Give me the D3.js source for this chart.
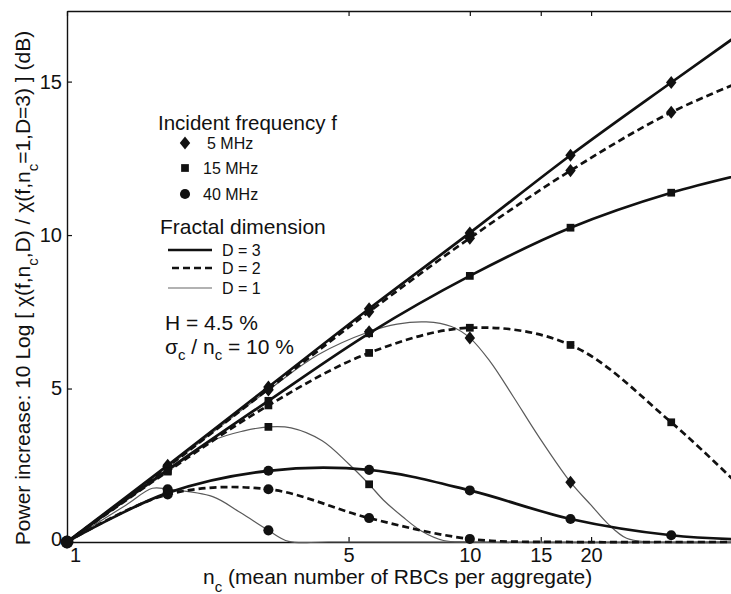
<!DOCTYPE html>
<html><head><meta charset="utf-8">
<script src="https://cdn.jsdelivr.net/npm/d3@7"></script>
<style>
body{margin:0;background:#fff}
svg text{font-family:"Liberation Sans",Arial,Helvetica,sans-serif;fill:#111}
</style>
</head><body>
<svg id="chart" width="731" height="594"></svg>
<script>
// ---- data ----
const nc = [1, 1.778, 3.162, 5.623, 10, 17.78, 31.62, 56.23];
const f5D3  = [0, 2.5, 5.05, 7.6, 10.07, 12.6, 14.97, 17.3];
const f5D2  = [0, 2.45, 4.98, 7.5, 9.9, 12.1, 14.0, 15.4];
const f15D3 = [0, 2.35, 4.6, 6.8, 8.67, 10.24, 11.38, 12.2];
const f15D2 = [0, 2.3, 4.45, 6.16, 6.98, 6.42, 3.9, 0.8];
const f40D3 = [0, 1.6, 2.32, 2.35, 1.68, 0.75, 0.22, 0.05];
const f40D2 = [0, 1.55, 1.72, 0.78, 0.1, 0, 0, 0];
const nc5D1  = [1, 1.778, 3.162, 4.2, 5.623, 6.6, 7.8, 9.0, 10, 11.2, 12.8, 14.8, 17.78, 20, 22, 24.5, 28, 56.23];
const f5D1   = [0, 2.45, 4.95, 6.1, 6.85, 7.1, 7.17, 7.02, 6.65, 5.9, 4.75, 3.45, 1.95, 1.2, 0.6, 0.12, 0, 0];
const nc15D1 = [1, 1.778, 2.3, 2.75, 3.162, 3.6, 4.3, 5.0, 5.623, 6.1, 6.8, 7.6, 8.6, 10, 56.23];
const f15D1  = [0, 2.3, 3.3, 3.62, 3.75, 3.72, 3.3, 2.55, 1.88, 1.37, 0.83, 0.35, 0.05, 0, 0];
const nc40D1 = [1, 1.4, 1.63, 1.778, 2.3, 2.7, 3.162, 3.55, 4.5, 56.23];
const f40D1  = [0, 1.2, 1.75, 1.72, 1.48, 0.95, 0.38, 0.02, 0, 0];
const markerNc = [1, 1.778, 3.162, 5.623, 10, 17.78, 31.62];
const freqLabels = ["5 MHz", "15 MHz", "40 MHz"];
const dimLabels = ["D = 3", "D = 2", "D = 1"];
const xTicks = [1, 5, 10, 15, 20];
const yTicks = [0, 5, 10, 15];

// ---- build ----
const series = [
  {f:0, d:3, x:nc, y:f5D3}, {f:0, d:2, x:nc, y:f5D2}, {f:0, d:1, x:nc5D1, y:f5D1},
  {f:1, d:3, x:nc, y:f15D3}, {f:1, d:2, x:nc, y:f15D2}, {f:1, d:1, x:nc15D1, y:f15D1},
  {f:2, d:3, x:nc, y:f40D3}, {f:2, d:2, x:nc, y:f40D2}, {f:2, d:1, x:nc40D1, y:f40D1}
];

const svg = d3.select("#chart");
const L = 67, R = 731, T = 11, B = 542;
const x = d3.scaleLog().domain([1, 44.5]).range([L, R]);
const y = d3.scaleLinear().domain([0, 17.3]).range([B, T]);

// custom diamond (wider than d3's default)
const wideDiamond = {
  draw(ctx, size) {
    const h = Math.sqrt(size / 1.6) ;
    const w = h * 0.8;
    ctx.moveTo(0, -h); ctx.lineTo(w, 0); ctx.lineTo(0, h); ctx.lineTo(-w, 0); ctx.closePath();
  }
};
const symTypes = [wideDiamond, d3.symbolSquare, d3.symbolCircle];
const symSizes = [68, 60, 80];
const styles = {
  3: {w:2.7, dash:null, c:"#111"},
  2: {w:2.7, dash:"7,4", c:"#111"},
  1: {w:1.2, dash:null, c:"#5a5a5a"}
};

svg.append("clipPath").attr("id","clip").append("rect")
  .attr("x", L).attr("y", 0).attr("width", R - L).attr("height", B + 3);

// frame / axes
const fs = 20;
const gx = svg.append("g").attr("transform", `translate(0,${B})`)
  .call(d3.axisBottom(x).tickValues(xTicks).tickFormat(d3.format("d")).tickSize(-5).tickSizeOuter(0).tickPadding(6));
gx.selectAll("text").attr("font-size", fs).attr("dx", (d) => d === 1 ? 8 : 0);
svg.append("g").attr("transform", `translate(0,${T})`)
  .call(d3.axisTop(x).tickValues(xTicks).tickFormat("").tickSize(-5).tickSizeOuter(0));
const gy = svg.append("g").attr("transform", `translate(${L},0)`)
  .call(d3.axisLeft(y).tickValues(yTicks).tickSize(-5).tickSizeOuter(0).tickPadding(5));
gy.selectAll("text").attr("font-size", fs).attr("dy", (d) => d === 0 ? "0.15em" : "0.32em");
svg.selectAll(".domain").attr("stroke", "#111").attr("stroke-width", 1.4);
svg.selectAll(".tick line").attr("stroke", "#111").attr("stroke-width", 1.2);
svg.selectAll(".tick text").attr("fill", "#111").attr("font-family", '"Liberation Sans",Arial,sans-serif');

// curves
const line = d3.line().curve(d3.curveCatmullRom.alpha(0.5))
  .x(d => x(d[0])).y(d => y(d[1]));
const plot = svg.append("g").attr("clip-path", "url(#clip)");
[1, 2, 3].forEach(D => {
  series.filter(s => s.d === D).forEach(s => {
    const st = styles[s.d];
    plot.append("path")
      .attr("d", line(s.x.map((v, i) => [v, s.y[i]])))
      .attr("fill", "none").attr("stroke", st.c).attr("stroke-width", st.w)
      .attr("stroke-dasharray", st.dash).attr("stroke-linejoin", "round");
  });
});

// markers
const mk = svg.append("g");
series.forEach(s => {
  s.x.forEach((v, i) => {
    const onGrid = markerNc.some(m => Math.abs(m - v) < 1e-6);
    if (!onGrid) return;
    if (i > 0 && s.y[i] <= 0) return;
    mk.append("path")
      .attr("d", d3.symbol().type(symTypes[s.f]).size(symSizes[s.f])())
      .attr("transform", `translate(${x(v)},${y(s.y[i])})`)
      .attr("fill", "#111");
  });
});
mk.append("circle").attr("cx", x(1)).attr("cy", y(0)).attr("r", 6.5).attr("fill", "#111");

// axis titles
const tf = 21, sf = 15;
const xt = svg.append("text").attr("x", 203).attr("y", 584).attr("font-size", tf);
xt.append("tspan").text("n");
xt.append("tspan").attr("font-size", sf).attr("dy", 8).text("c");
xt.append("tspan").attr("dy", -8).text(" (mean number of RBCs per aggregate)");

const yt = svg.append("text").attr("transform", "translate(30,288) rotate(-90)")
  .attr("text-anchor", "middle").attr("font-size", tf);
const ytParts = [["Power increase: 10 Log [ χ(f,n", 0], ["c", 1], [",D) / χ(f,n", 0], ["c", 1], ["=1,D=3) ] (dB)", 0]];
let prevSub = 0;
ytParts.forEach(([t, sub]) => {
  yt.append("tspan").attr("font-size", sub ? sf : tf)
    .attr("dy", (sub - prevSub) * 8).text(t);
  prevSub = sub;
});

// legend
svg.append("text").attr("x", 158).attr("y", 130).attr("font-size", 20.5).text("Incident frequency f");
freqLabels.forEach((lab, i) => {
  const cy = [143, 168, 194][i];
  svg.append("path").attr("d", d3.symbol().type(symTypes[i]).size(symSizes[i])())
    .attr("transform", `translate(185,${cy})`).attr("fill", "#111");
  svg.append("text").attr("x", i === 0 ? 207 : 203).attr("y", cy + 6).attr("font-size", 16).text(lab);
});
svg.append("text").attr("x", 160).attr("y", 234).attr("font-size", 21).text("Fractal dimension");
dimLabels.forEach((lab, i) => {
  const D = 3 - i;
  const st = styles[D];
  const ly = [250, 268, 288][i];
  svg.append("line").attr("x1", D === 2 ? 172 : 168).attr("x2", 212).attr("y1", ly).attr("y2", ly)
    .attr("stroke", D === 1 ? "#999" : st.c).attr("stroke-width", D === 1 ? 1.6 : 2.4)
    .attr("stroke-dasharray", st.dash);
  svg.append("text").attr("x", 222).attr("y", ly + 6).attr("font-size", 16).text(lab);
});
svg.append("text").attr("x", 165).attr("y", 330).attr("font-size", 21).text("H = 4.5 %");
const sg = svg.append("text").attr("x", 165).attr("y", 354).attr("font-size", 21);
sg.append("tspan").text("σ");
sg.append("tspan").attr("font-size", sf).attr("dy", 6).text("c");
sg.append("tspan").attr("dy", -6).text(" / n");
sg.append("tspan").attr("font-size", sf).attr("dy", 6).text("c");
sg.append("tspan").attr("dy", -6).text(" = 10 %");
</script>
</body></html>
